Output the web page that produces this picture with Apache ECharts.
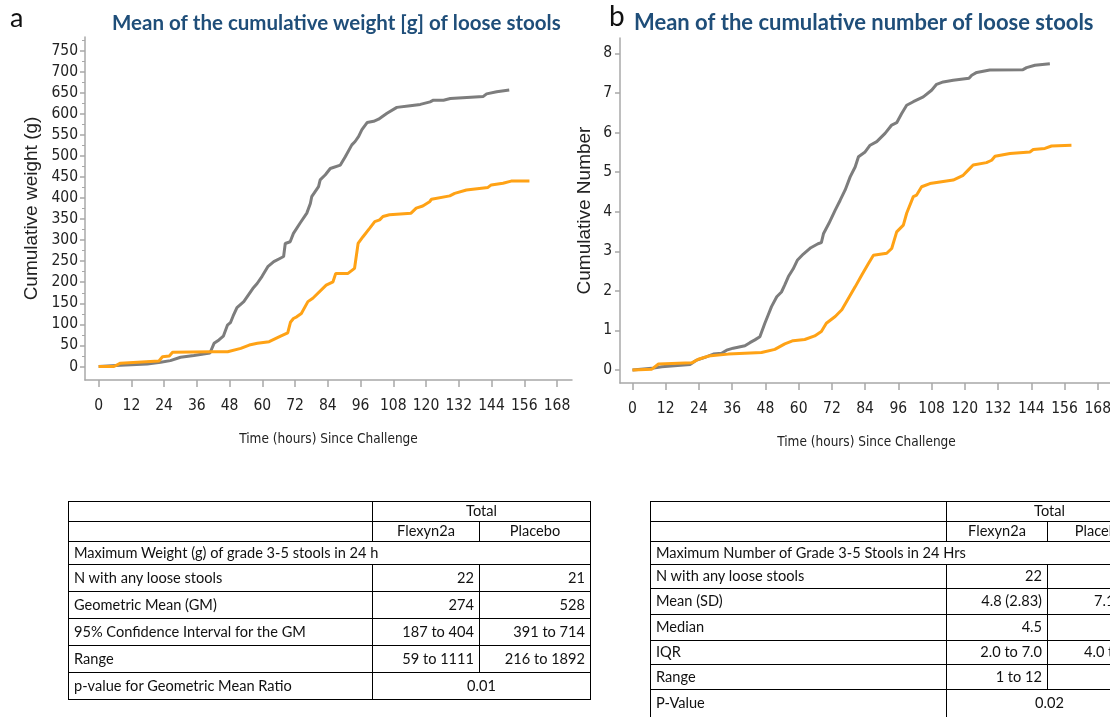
<!DOCTYPE html>
<html>
<head>
<meta charset="utf-8">
<script src="https://cdn.jsdelivr.net/npm/echarts@6/dist/echarts.min.js"></script>
<style>
  html, body { margin: 0; padding: 0; background: #fff; width: 1110px; height: 717px; overflow: hidden; }
  #chart { position: absolute; left: 0; top: 0; width: 1130px; height: 717px; }
  table.stats { position: absolute; border-collapse: collapse; font-family: Lato, "Open Sans", sans-serif; font-size: 14.6px; color: #111; table-layout: fixed; }
  table.stats td { border: 1.5px solid #000; padding: 0 5px; white-space: nowrap; overflow: hidden; line-height: 1; }
  table.stats td.c { text-align: center; }
  table.stats td.r { text-align: right; }
  table.stats td.l { text-align: left; }
</style>
</head>
<body>
<div id="chart"></div>

<table class="stats" id="tblA" style="left:68px; top:501px; width:522px;">
  <colgroup><col style="width:304px"><col style="width:107px"><col style="width:111px"></colgroup>
</table>
<table class="stats" id="tblB" style="left:650px; top:501px; width:502px;">
  <colgroup><col style="width:296px"><col style="width:101px"><col style="width:105px"></colgroup>
</table>

<script>
// Hours since challenge and mean cumulative values, [hour, value]
const weightPlacebo = [
  [0,0],[8,3],[17.8,6],[22.7,10],[26.3,14],[30,22],[34.9,26],[40.8,32],[42.3,55],[44.1,63],
  [45.7,72],[47.2,98],[48.3,104],[49.3,120],[50.7,140],[53.2,154],[56.5,185],[58.1,197],[59.9,214],[62,237],
  [64.2,249],[66.6,257],[67.8,261],[68.4,292],[70.2,296],[71.4,316],[73.8,340],[76.3,364],[77.6,387],[78.1,403],
  [80.6,427],[81.2,443],[83.1,455],[84.9,470],[88.6,478],[90.4,498],[92.8,526],[94,534],[95.3,546],[96.5,562],
  [98.4,579],[100.8,582],[102.6,587],[105.7,601],[109.3,615],[114.2,619],[117.9,622],[121.5,628],[122.7,632],[126.4,632],
  [128.9,636],[141,641],[142.2,647],[145.9,652],[150.5,656]
];
const weightFlexyn = [
  [0,0],[5.6,0],[8,8],[22.1,13],[23.4,23],[25.9,25],[27.1,34],[41.2,35],[47.3,35],[52.1,43],
  [55.2,51],[58.2,55],[62.5,59],[66.7,72],[69.3,80],[70.3,105],[71.4,114],[72.6,118],[74.3,126],[76.7,154],
  [78.5,162],[83.4,193],[85.9,201],[86.9,221],[91.4,221],[93.8,233],[95.1,292],[96.9,308],[99.3,328],[101.2,344],
  [103,348],[104.2,356],[106.6,360],[114.5,364],[116.4,376],[118.8,381],[121.3,391],[122,397],[128.7,405],[130.5,411],
  [134.8,419],[142.7,425],[143.9,431],[148.2,435],[151.2,440],[157.9,440]
];
const countPlacebo = [
  [0,0],[7,0.04],[10.6,0.08],[20.8,0.14],[23.2,0.25],[26.2,0.32],[29.2,0.40],[32.2,0.42],[34,0.50],[36.4,0.55],
  [40.6,0.61],[42.4,0.69],[44.2,0.76],[46,0.84],[47.8,1.18],[49,1.39],[50.2,1.60],[52.1,1.85],[53.8,1.97],[55,2.15],
  [56.3,2.36],[58,2.55],[59.6,2.78],[61.7,2.93],[64.4,3.09],[67,3.19],[68.2,3.22],[69,3.45],[70.9,3.70],[73.2,4.04],
  [75,4.29],[76.8,4.55],[78.6,4.88],[80.4,5.13],[81.6,5.39],[84,5.51],[85.8,5.68],[88.2,5.77],[91.2,5.98],[93.6,6.19],
  [95.4,6.25],[97.2,6.48],[99,6.69],[101.4,6.78],[105,6.90],[108,7.07],[109.8,7.22],[112.2,7.28],[115.8,7.32],[121.5,7.37],
  [122.5,7.45],[124.3,7.52],[129,7.58],[141,7.59],[142.3,7.64],[145.3,7.70],[150.7,7.74]
];
const countFlexyn = [
  [0,0],[7,0.02],[9.4,0.15],[21.4,0.18],[23.8,0.27],[27.4,0.35],[34.6,0.40],[46.6,0.44],[51.4,0.52],[55,0.66],
  [58,0.74],[62.2,0.77],[65.8,0.86],[68.2,0.97],[70,1.18],[73.2,1.35],[75.6,1.52],[78,1.81],[80.4,2.10],[82.8,2.40],
  [85.2,2.69],[87,2.90],[91.8,2.95],[93.6,3.07],[95.4,3.49],[97.8,3.66],[99,3.96],[101.4,4.38],[102.6,4.42],[104.4,4.63],
  [107.4,4.71],[115.8,4.80],[119.4,4.92],[121.2,5.05],[123,5.18],[127.8,5.24],[129.7,5.30],[130.9,5.40],[136.3,5.47],[143.5,5.51],
  [144.7,5.57],[148.9,5.60],[151.3,5.66],[158.5,5.68]
];

// Tick positions
const hourTicks = [0,12,24,36,48,60,72,84,96,108,120,132,144,156,168];
const weightTicks = [0,50,100,150,200,250,300,350,400,450,500,550,600,650,700,750];
const weightMinorTicks = [25,75,125,175,225,275,325,375,425,475,525,575,625,675,725,775];
const countTicks = [0,1,2,3,4,5,6,7,8];

// Summary tables
const tableA = {
  header: 'Maximum Weight (g) of grade 3-5 stools in 24 h',
  rows: [
    ['N with any loose stools', '22', '21'],
    ['Geometric Mean (GM)', '274', '528'],
    ['95% Confidence Interval for the GM', '187 to 404', '391 to 714'],
    ['Range', '59 to 1111', '216 to 1892']
  ],
  pLabel: 'p-value for Geometric Mean Ratio',
  pValue: '0.01'
};
const tableB = {
  header: 'Maximum Number of Grade 3-5 Stools in 24 Hrs',
  rows: [
    ['N with any loose stools', '22', ''],
    ['Mean (SD)', '4.8 (2.83)', '7.1'],
    ['Median', '4.5', ''],
    ['IQR', '2.0 to 7.0', '4.0 to'],
    ['Range', '1 to 12', '']
  ],
  pLabel: 'P-Value',
  pValue: '0.02'
};

const GREY = '#7d7d7d';
const ORANGE = '#ffa215';
const AXIS = '#a8a8a8';
const NARROW = '"Liberation Sans Narrow", "DejaVu Sans Condensed", "Arial Narrow", sans-serif';

function buildTable(id, t, rowHeights) {
  const el = document.getElementById(id);
  let html = '';
  html += '<tr style="height:20px"><td></td><td class="c" colspan="2">Total</td></tr>';
  html += '<tr style="height:20px"><td></td><td class="c">Flexyn2a</td><td class="c">Placebo</td></tr>';
  html += '<tr style="height:23px"><td class="l" colspan="3">' + t.header + '</td></tr>';
  t.rows.forEach((r, i) => {
    html += '<tr style="height:' + rowHeights[i] + 'px"><td class="l">' + r[0] + '</td><td class="r">' + r[1] +
      '</td><td class="r">' + r[2] + '</td></tr>';
  });
  html += '<tr style="height:' + rowHeights[rowHeights.length - 1] + 'px"><td class="l">' + t.pLabel +
    '</td><td class="c" colspan="2">' + t.pValue + '</td></tr>';
  el.insertAdjacentHTML('beforeend', html);
}
buildTable('tblA', tableA, [27, 27, 27, 27, 27]);
buildTable('tblB', tableB, [24, 26, 26, 24, 25, 28]);
// Placebo column of the second table: values start part-way into the cell
document.querySelectorAll('#tblB tr').forEach((tr, i) => {
  const cells = tr.querySelectorAll('td');
  if (i >= 3 && cells.length === 3) {
    cells[2].style.textAlign = 'left';
    cells[2].style.paddingLeft = i === 6 ? '36px' : '46px';
  }
});

function xAxisFor(gridIndex, min, max) {
  return {
    type: 'value', gridIndex, min, max,
    axisLine: { show: true, onZero: false, lineStyle: { color: AXIS, width: 1.5 } },
    axisTick: { show: true, customValues: hourTicks, length: 7, lineStyle: { color: AXIS, width: 1.5 } },
    axisLabel: { customValues: hourTicks, margin: 18, fontFamily: NARROW, fontSize: 15.5, color: '#222' },
    splitLine: { show: false },
    name: 'Time (hours) Since Challenge', nameLocation: 'middle', nameGap: 52,
    nameTextStyle: { fontFamily: NARROW, fontSize: 13.5, color: '#222' }
  };
}

const chart = echarts.init(document.getElementById('chart'), null, { renderer: 'canvas' });
chart.setOption({
  animation: false,
  backgroundColor: '#fff',
  title: [
    { text: 'a', left: 10, top: 5, padding: 0, textStyle: { fontFamily: 'Lato', fontWeight: 'normal', fontSize: 27, color: '#111' } },
    { text: 'Mean of the cumulative weight [g] of loose stools', left: 112, top: 13, padding: 0,
      textStyle: { fontFamily: 'Lato', fontWeight: 'bold', fontSize: 20.5, color: '#1f4e79' } },
    { text: 'b', left: 609, top: 3, padding: 0, textStyle: { fontFamily: 'Lato', fontWeight: 'normal', fontSize: 28, color: '#111' } },
    { text: 'Mean of the cumulative number of loose stools', left: 634, top: 12, padding: 0,
      textStyle: { fontFamily: 'Lato', fontWeight: 'bold', fontSize: 22, color: '#1f4e79' } }
  ],
  grid: [
    { left: 85, top: 37, width: 487, height: 343 },
    { left: 620, top: 38, width: 493, height: 345 }
  ],
  xAxis: [ xAxisFor(0, -5, 173.5), xAxisFor(1, -4.5, 173.5) ],
  yAxis: [
    {
      type: 'value', gridIndex: 0, min: -32, max: 782, position: 'left',
      axisLine: { show: true, onZero: false, lineStyle: { color: AXIS, width: 1.5 } },
      axisTick: { show: true, customValues: weightTicks, length: 5, lineStyle: { color: AXIS, width: 1.5 } },
      axisLabel: { customValues: weightTicks, margin: 7, fontFamily: NARROW, fontSize: 15.5, color: '#222' },
      splitLine: { show: false },
      name: 'Cumulative weight (g)', nameLocation: 'middle', nameGap: 44,
      nameTextStyle: { fontFamily: '"Liberation Sans", Arial, sans-serif', fontSize: 19, color: '#222' }
    },
    {
      type: 'value', gridIndex: 0, min: -32, max: 782, position: 'left',
      axisLine: { show: false, onZero: false },
      axisTick: { show: true, customValues: weightMinorTicks, length: 3, lineStyle: { color: AXIS, width: 1 } },
      axisLabel: { show: false },
      splitLine: { show: false }
    },
    {
      type: 'value', gridIndex: 1, min: -0.33, max: 8.39, position: 'left',
      axisLine: { show: true, onZero: false, lineStyle: { color: AXIS, width: 1.5 } },
      axisTick: { show: true, customValues: countTicks, length: 5, lineStyle: { color: AXIS, width: 1.5 } },
      axisLabel: { customValues: countTicks, margin: 8, fontFamily: NARROW, fontSize: 15.5, color: '#222' },
      splitLine: { show: false },
      name: 'Cumulative Number', nameLocation: 'middle', nameGap: 26,
      nameTextStyle: { fontFamily: '"Liberation Sans", Arial, sans-serif', fontSize: 19, color: '#222' }
    }
  ],
  series: [
    { name: 'Placebo', type: 'line', xAxisIndex: 0, yAxisIndex: 0, data: weightPlacebo, showSymbol: false,
      lineStyle: { color: GREY, width: 3 }, itemStyle: { color: GREY } },
    { name: 'Flexyn2a', type: 'line', xAxisIndex: 0, yAxisIndex: 0, data: weightFlexyn, showSymbol: false,
      lineStyle: { color: ORANGE, width: 3 }, itemStyle: { color: ORANGE } },
    { name: 'Placebo', type: 'line', xAxisIndex: 1, yAxisIndex: 2, data: countPlacebo, showSymbol: false,
      lineStyle: { color: GREY, width: 3 }, itemStyle: { color: GREY } },
    { name: 'Flexyn2a', type: 'line', xAxisIndex: 1, yAxisIndex: 2, data: countFlexyn, showSymbol: false,
      lineStyle: { color: ORANGE, width: 3 }, itemStyle: { color: ORANGE } }
  ]
});
</script>
</body>
</html>
